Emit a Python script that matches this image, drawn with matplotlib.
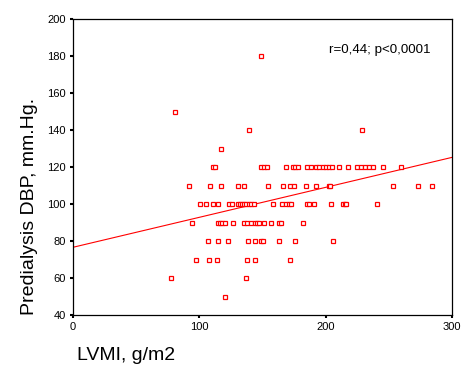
import matplotlib
matplotlib.use("Agg")
import matplotlib.pyplot as plt

plt.rcParams['font.family'] = ['Liberation Sans', 'DejaVu Sans']

# LVMI (g/m2) and predialysis DBP (mm Hg), grouped by DBP row
row_120_x = [111, 112.4, 149, 151.5, 153.5, 168.6, 174, 176, 178, 185, 188, 192.2, 194.9,
             197.8, 200.4, 202.5, 205.4, 210.9, 218, 225, 228, 231, 234, 237.2, 245.7, 259.3]
row_110_x = [92, 108.4, 116.8, 131, 135.7, 154.4, 165.9, 171.5, 174.6, 184.8, 192.7,
             202.7, 203.7, 253.6, 273.4, 284.4]
row_100_x = [100.8, 105.6, 111.1, 115.1, 123.2, 125.5, 131, 132.5, 134, 135.5, 137, 139,
             141, 143, 158.6, 165.8, 168.7, 170.9, 172.2, 185.3, 186.6, 191.1, 204.5,
             213.7, 215.2, 216.4, 241]
row_90_x = [94.5, 115.1, 116.6, 118, 120, 127, 135, 138, 141, 144, 145.5, 147, 150.8,
            157.1, 163.3, 164.4, 182.4]
row_80_x = [107, 115.1, 122.4, 138.9, 143.8, 148.9, 150.2, 163.4, 176.1, 206.1]
row_70_x = [97.7, 107.8, 113.6, 137.8, 144.4, 172.1]
other_x = [149.2, 81, 139.7, 229, 117.5, 77.9, 137.2, 120.7]
other_y = [180, 150, 140, 140, 130, 60, 60, 50]

lvmi = (row_120_x + row_110_x + row_100_x + row_90_x + row_80_x + row_70_x + other_x)
dbp = ([120] * len(row_120_x) + [110] * len(row_110_x) + [100] * len(row_100_x)
       + [90] * len(row_90_x) + [80] * len(row_80_x) + [70] * len(row_70_x) + other_y)

# Fitted regression line endpoints
fit_x = [0, 300]
fit_y = [76.6, 125.2]

x_ticks = [0, 100, 200, 300]
y_ticks = [40, 60, 80, 100, 120, 140, 160, 180, 200]
annotation = "r=0,44; p<0,0001"

fig = plt.figure(figsize=(4.72, 3.77), dpi=100)
ax = fig.add_axes([73 / 472, 1 - 315 / 377, (452 - 73) / 472, (315 - 19) / 377])

red = '#ff0000'
ax.plot(fit_x, fit_y, color=red, linewidth=0.8, zorder=2)
ax.plot(lvmi, dbp, linestyle='none', marker='s', markersize=3.4,
        markerfacecolor='white', markeredgecolor=red, markeredgewidth=0.9, zorder=3)

ax.set_xlim(0, 300)
ax.set_ylim(40, 200)
ax.set_xticks(x_ticks)
ax.set_yticks(y_ticks)
ax.tick_params(axis='both', direction='out', length=2.5, width=1.5, pad=2.5,
               labelsize=8, colors='black')
for s in ax.spines.values():
    s.set_linewidth(0.9)
    s.set_color('black')

ax.text(202.6, 183.2, annotation, ha='left', va='center', fontsize=9.6, color='black')

fig.text(77 / 472, 1 - 355 / 377, "LVMI, g/m2", ha='left', va='center', fontsize=14)
fig.text(30 / 472, 1 - 206 / 377, "Predialysis DBP, mm.Hg.", ha='center', va='center',
         rotation=90, fontsize=14)

fig.savefig("out.png", dpi=100, facecolor='white')
